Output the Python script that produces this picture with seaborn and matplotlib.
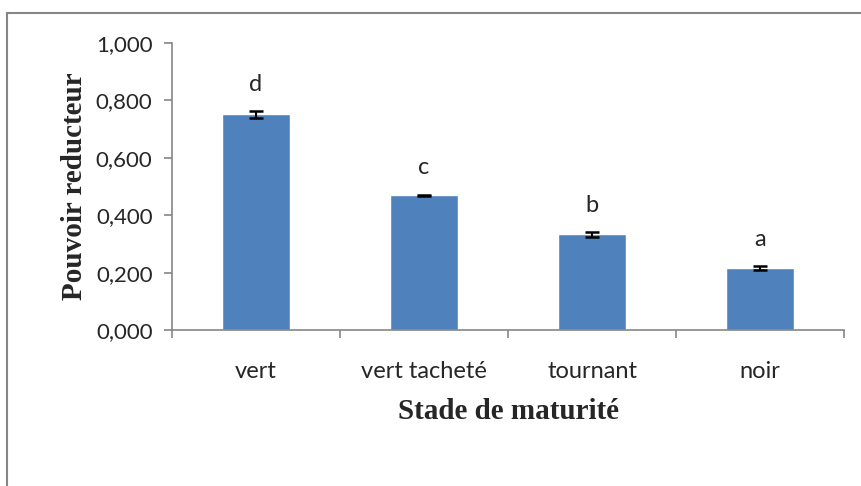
import seaborn as sns
import matplotlib.pyplot as plt
import pandas as pd
from matplotlib.patches import Rectangle
from matplotlib.ticker import FuncFormatter, FixedLocator

stades = ['vert', 'vert tacheté', 'tournant', 'noir']
pouvoir = [0.752, 0.469, 0.333, 0.215]
erreurs = [0.012, 0.003, 0.008, 0.007]
lettres = ['d', 'c', 'b', 'a']

df = pd.DataFrame({'stade': stades, 'valeur': pouvoir})

sns.set_style('white')
plt.rcParams['font.family'] = ['Lato', 'DejaVu Sans']

fig = plt.figure(figsize=(8.61, 4.86), dpi=100)
ax = fig.add_axes([0.1998, 0.321, 0.7805, 0.5905])

sns.barplot(data=df, x='stade', y='valeur', color='#4F81BD', width=0.4,
            saturation=1, errorbar=None, ax=ax)
ax.errorbar(range(len(stades)), pouvoir, yerr=erreurs, fmt='none',
            ecolor='black', elinewidth=1.5, capsize=5, capthick=1.8)

for i, (v, e, l) in enumerate(zip(pouvoir, erreurs, lettres)):
    ax.text(i, v + e + 0.07, l, ha='center', va='baseline', fontsize=17)

ax.set_ylim(0, 1.0)
ax.set_xlim(-0.5, len(stades) - 0.5)
ax.set_yticks([0, 0.2, 0.4, 0.6, 0.8, 1.0])
ax.yaxis.set_major_formatter(FuncFormatter(lambda v, p: f'{v:.3f}'.replace('.', ',')))
ax.xaxis.set_major_locator(FixedLocator([-0.5, 0.5, 1.5, 2.5, 3.5]))
ax.xaxis.set_minor_locator(FixedLocator(range(len(stades))))
ax.set_xticklabels([], minor=False)
ax.set_xticklabels(stades, minor=True)

gris = '#868686'
for s in ['top', 'right']:
    ax.spines[s].set_visible(False)
for s in ['left', 'bottom']:
    ax.spines[s].set_color(gris)
    ax.spines[s].set_linewidth(1.2)
ax.tick_params(axis='y', which='major', direction='out', length=6, color=gris,
               width=1.2, left=True, labelsize=16, pad=8)
ax.tick_params(axis='x', which='major', direction='out', length=6, color=gris,
               width=1.2, bottom=True)
ax.tick_params(axis='x', which='minor', length=0, labelsize=17, pad=22)

ax.set_xlabel('Stade de maturité', family='Liberation Serif', fontweight='bold',
              fontsize=21, labelpad=12)
ax.set_ylabel('Pouvoir reducteur', family='Liberation Serif', fontweight='bold',
              fontsize=21, labelpad=6)

# cadre du graphique
fig.patches.append(Rectangle((7 / 861, -0.1), 1.1, 1 - 13 / 486 + 0.1,
                             transform=fig.transFigure, fill=False,
                             edgecolor=gris, linewidth=1.5))

fig.savefig('out.png', dpi=100)
